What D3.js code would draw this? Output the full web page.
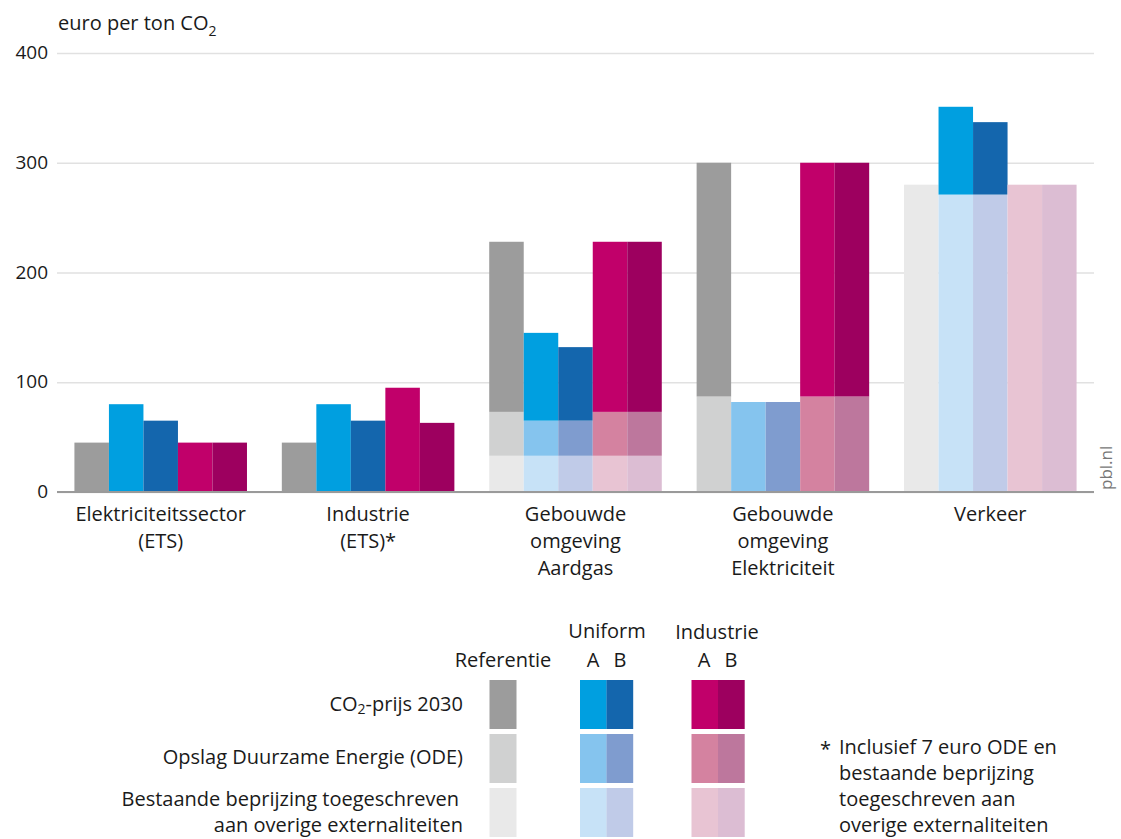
<!DOCTYPE html>
<html>
<head>
<meta charset="utf-8">
<script src="https://cdnjs.cloudflare.com/ajax/libs/d3/7.8.5/d3.min.js"></script>
<style>
  body { margin: 0; background: #fff; }
  svg text { font-family: "Open Sans", sans-serif; fill: #1a1a1a; }
</style>
</head>
<body>
<div id="chart"></div>
<script>
// categories and series
var categories = [
  ["Elektriciteitssector", "(ETS)"],
  ["Industrie", "(ETS)*"],
  ["Gebouwde", "omgeving", "Aardgas"],
  ["Gebouwde", "omgeving", "Elektriciteit"],
  ["Verkeer"]
];
var seriesNames = ["Referentie", "Uniform A", "Uniform B", "Industrie A", "Industrie B"];
var layerNames = ["bestaande", "ode", "co2"];

// values per category, per series (euro per ton CO2)
var bestaande = [
  [0, 0, 0, 0, 0],
  [0, 0, 0, 0, 0],
  [33, 33, 33, 33, 33],
  [0, 0, 0, 0, 0],
  [280, 271, 271, 280, 280]
];
var ode = [
  [0, 0, 0, 0, 0],
  [0, 0, 0, 0, 0],
  [40, 32, 32, 40, 40],
  [87, 82, 82, 87, 87],
  [0, 0, 0, 0, 0]
];
var co2 = [
  [45, 80, 65, 45, 45],
  [45, 80, 65, 95, 63],
  [155, 80, 67, 155, 155],
  [213, 0, 0, 213, 213],
  [0, 80, 66, 0, 0]
];
var yTicks = [0, 100, 200, 300, 400];

var colors = {
  "Referentie":  { co2: "#9c9c9c", ode: "#d0d1d1", bestaande: "#e9e9e9" },
  "Uniform A":   { co2: "#009fe0", ode: "#85c4ee", bestaande: "#c7e2f7" },
  "Uniform B":   { co2: "#1466ad", ode: "#7f9ccf", bestaande: "#c0cbe8" },
  "Industrie A": { co2: "#c1006a", ode: "#d482a0", bestaande: "#e8c4d3" },
  "Industrie B": { co2: "#9d005f", ode: "#bd779d", bestaande: "#dcbdd3" }
};

var width = 1121, height = 839;
var margin = { left: 57, right: 27, top: 53, bottom: 347 };
var fs = 20;

var svg = d3.select("#chart").append("svg")
  .attr("width", width)
  .attr("height", height);

var x0 = d3.scaleBand()
  .domain(d3.range(categories.length))
  .range([margin.left, width - margin.right])
  .paddingInner(0.168)
  .paddingOuter(0.084);

var x1 = d3.scaleBand()
  .domain(seriesNames)
  .range([0, x0.bandwidth()]);

var y = d3.scaleLinear()
  .domain([0, 400])
  .range([height - margin.bottom, margin.top]);

// gridlines + tick labels
var yAxis = svg.append("g")
  .attr("transform", "translate(" + margin.left + ",0)")
  .call(d3.axisLeft(y).tickValues(yTicks).tickSize(-(width - margin.left - margin.right)).tickPadding(9));
yAxis.select(".domain").remove();
yAxis.selectAll(".tick line").attr("stroke", "#e1e1e1").attr("stroke-width", 1.5);
yAxis.selectAll(".tick text").attr("font-size", 19).attr("fill", "#1a1a1a").attr("dy", "0.3em");

svg.append("text")
  .attr("x", 58).attr("y", 30)
  .attr("font-size", fs)
  .html('euro per ton CO<tspan font-size="14" dy="6">2</tspan>');

// stacked bars
var rows = [];
categories.forEach(function(c, ci) {
  seriesNames.forEach(function(s, si) {
    var base = 0;
    var vals = { bestaande: bestaande[ci][si], ode: ode[ci][si], co2: co2[ci][si] };
    layerNames.forEach(function(l) {
      if (vals[l] > 0) {
        rows.push({ cat: ci, series: s, layer: l, y0: base, y1: base + vals[l] });
      }
      base += vals[l];
    });
  });
});

svg.append("g").selectAll("rect")
  .data(rows)
  .enter()
  .append("rect")
  .attr("x", function(d) { return x0(d.cat) + x1(d.series); })
  .attr("width", x1.bandwidth())
  .attr("y", function(d) { return y(d.y1); })
  .attr("height", function(d) { return y(d.y0) - y(d.y1); })
  .attr("fill", function(d) { return colors[d.series][d.layer]; });

// baseline
svg.append("line")
  .attr("x1", margin.left).attr("x2", width - margin.right)
  .attr("y1", y(0)).attr("y2", y(0))
  .attr("stroke", "#9a9a9a").attr("stroke-width", 2);

// category labels
var catLabels = svg.append("g").selectAll("text")
  .data(categories)
  .enter()
  .append("text")
  .attr("text-anchor", "middle")
  .attr("font-size", fs)
  .attr("transform", function(d, i) {
    return "translate(" + (x0(i) + x0.bandwidth() / 2) + "," + (y(0) + 29) + ")";
  });
catLabels.selectAll("tspan")
  .data(function(d) { return d; })
  .enter()
  .append("tspan")
  .attr("x", 0)
  .attr("dy", function(d, i) { return i == 0 ? 0 : 27; })
  .text(function(d) { return d; });

svg.append("text")
  .attr("transform", "translate(1112,490) rotate(-90)")
  .attr("font-size", 17)
  .style("fill", "#777")
  .text("pbl.nl");

// legend
var legendRows = [
  { key: "co2", y: 680 },
  { key: "ode", y: 734 },
  { key: "bestaande", y: 788 }
];
var swatchX = { "Referentie": 489.5, "Uniform A": 580, "Uniform B": 606.5, "Industrie A": 691.5, "Industrie B": 718 };
var sw = 26.7, sh = 49;

var legend = svg.append("g").attr("class", "legend");
legendRows.forEach(function(r) {
  seriesNames.forEach(function(s) {
    legend.append("rect")
      .attr("x", swatchX[s]).attr("y", r.y)
      .attr("width", s == "Referentie" ? 27 : sw).attr("height", sh)
      .attr("fill", colors[s][r.key]);
  });
});

legend.append("text").attr("x", 607).attr("y", 638).attr("text-anchor", "middle").attr("font-size", fs).text("Uniform");
legend.append("text").attr("x", 717).attr("y", 639).attr("text-anchor", "middle").attr("font-size", fs).text("Industrie");
legend.append("text").attr("x", 503).attr("y", 667).attr("text-anchor", "middle").attr("font-size", fs).text("Referentie");
[["A", 593], ["B", 620], ["A", 704], ["B", 731]].forEach(function(a) {
  legend.append("text").attr("x", a[1]).attr("y", 667).attr("text-anchor", "middle").attr("font-size", fs).text(a[0]);
});

legend.append("text").attr("x", 463).attr("y", 711).attr("text-anchor", "end").attr("font-size", fs)
  .html('CO<tspan font-size="14" dy="3">2</tspan><tspan dy="-3">-prijs 2030</tspan>');
legend.append("text").attr("x", 463).attr("y", 764).attr("text-anchor", "end").attr("font-size", fs)
  .text("Opslag Duurzame Energie (ODE)");
legend.append("text").attr("x", 459).attr("y", 806).attr("text-anchor", "end").attr("font-size", fs)
  .text("Bestaande beprijzing toegeschreven");
legend.append("text").attr("x", 463).attr("y", 832).attr("text-anchor", "end").attr("font-size", fs)
  .text("aan overige externaliteiten");

// footnote
var footnote = ["Inclusief 7 euro ODE en", "bestaande beprijzing", "toegeschreven aan", "overige externaliteiten"];
svg.append("text").attr("x", 820).attr("y", 756).attr("font-size", fs).text("*");
svg.append("g").selectAll("text")
  .data(footnote)
  .enter()
  .append("text")
  .attr("x", 839)
  .attr("y", function(d, i) { return 754 + i * 26; })
  .attr("font-size", fs)
  .text(function(d) { return d; });
</script>
</body>
</html>
